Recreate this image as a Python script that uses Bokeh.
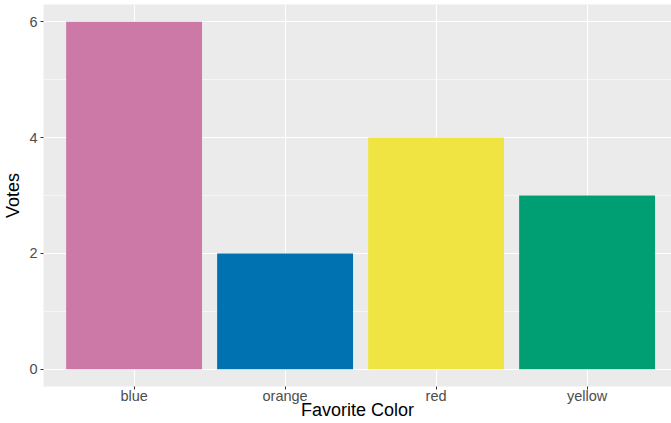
from bokeh.plotting import figure
from bokeh.models import FixedTicker, Range1d, ColumnDataSource
from bokeh.embed import file_html
from bokeh.resources import INLINE

categories = ["blue", "orange", "red", "yellow"]
votes = [6, 2, 4, 3]
bar_colors = ["#CC79A7", "#0072B2", "#F0E442", "#009E73"]
y_ticks = [0, 2, 4, 6]

xpos = [i + 1 for i in range(len(categories))]
src = ColumnDataSource(dict(x=xpos, top=votes, color=bar_colors))

FONT = "Liberation Sans"

p = figure(width=671, height=423, output_backend="svg", toolbar_location=None,
           x_range=Range1d(0.4, 4.559), y_range=Range1d(-0.3, 6.3),
           min_border_left=43, min_border_right=0, min_border_top=4, min_border_bottom=37)
p.background_fill_color = "#EBEBEB"
p.border_fill_color = "white"
p.outline_line_color = None

p.vbar(x="x", top="top", bottom=0, width=0.9, color="color", line_color=None, source=src)

p.xaxis.ticker = FixedTicker(ticks=xpos)
p.xaxis.major_label_overrides = {x: c for x, c in zip(xpos, categories)}
p.yaxis.ticker = FixedTicker(ticks=y_ticks, minor_ticks=[1, 3, 5])

for ax in (p.xaxis[0], p.yaxis[0]):
    ax.axis_line_color = None
    ax.major_tick_in = 0
    ax.major_tick_out = 3
    ax.major_tick_line_color = "#333333"
    ax.minor_tick_line_color = None
    ax.major_label_text_font = FONT
    ax.major_label_text_font_size = "14.5px"
    ax.major_label_text_color = "#4D4D4D"
    ax.major_label_standoff = 2
    ax.axis_label_text_font = FONT
    ax.axis_label_text_font_size = "18px"
    ax.axis_label_text_font_style = "normal"
    ax.axis_label_text_color = "black"
    ax.axis_label_standoff = 3

p.xaxis.major_label_standoff = -2
p.xaxis.axis_label_standoff = -7
p.xaxis.axis_label = "Favorite Color"
p.yaxis.axis_label = "Votes"

p.xgrid.grid_line_color = "white"
p.xgrid.grid_line_width = 1.1
p.ygrid.grid_line_color = "white"
p.ygrid.grid_line_width = 1.1
p.ygrid.minor_grid_line_color = "white"
p.ygrid.minor_grid_line_width = 0.55

open("out.html", "w").write(file_html(p, INLINE))
